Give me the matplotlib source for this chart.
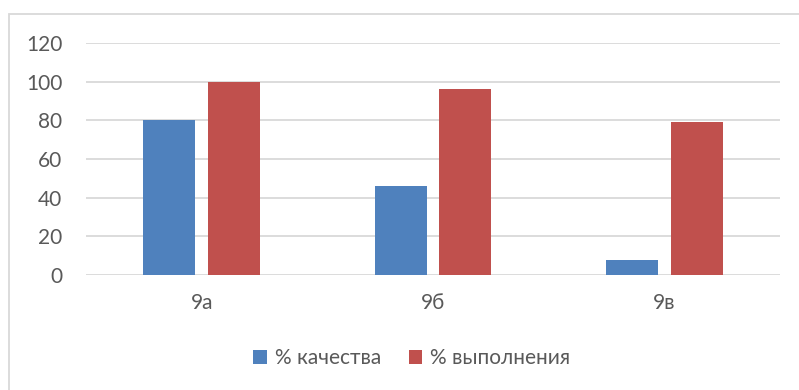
import numpy as np
import matplotlib.pyplot as plt
from matplotlib.patches import Rectangle

classes = ["9а", "9б", "9в"]
quality = [80, 46, 8]
completion = [100, 96, 79]
series_names = ["% качества", "% выполнения"]
yticks = [0, 20, 40, 60, 80, 100, 120]

plt.rcParams["font.family"] = ["Lato", "DejaVu Sans"]
text_color = "#595959"
grid_color = "#D9D9D9"

fig = plt.figure(figsize=(7.99, 3.9), dpi=100)
ax = fig.add_axes([86 / 799, 1 - 275 / 390, 694 / 799, 232 / 390])

# chart frame, open on the right and bottom
fig.patches.append(Rectangle((9 / 799, -0.1), 1.0, 1.1 - 14 / 390,
                             transform=fig.transFigure, fill=False,
                             edgecolor=grid_color, linewidth=1.3))

x = np.arange(len(classes))
width = 0.225
offset = 0.14
ax.bar(x - offset, quality, width, color="#4F81BD", label=series_names[0], zorder=3)
ax.bar(x + offset, completion, width, color="#C0504D", label=series_names[1], zorder=3)

ax.set_xlim(-0.5, len(classes) - 0.5)
ax.set_ylim(0, 120)
ax.set_yticks(yticks)
ax.set_xticks(x)
ax.set_xticklabels(classes)
ax.yaxis.grid(True, color=grid_color, linewidth=1.3, zorder=0)
for s in ax.spines.values():
    s.set_visible(False)
ax.tick_params(length=0, colors=text_color, labelsize=15)
ax.tick_params(axis="y", pad=17)
ax.tick_params(axis="x", pad=13)

fig.legend(loc="center", bbox_to_anchor=(412 / 799, 1 - 358 / 390), ncol=2,
           frameon=False, fontsize=15, labelcolor=text_color,
           handlelength=0.65, handleheight=0.65, handletextpad=0.4,
           columnspacing=1.3)

fig.savefig("out.png", dpi=100)
